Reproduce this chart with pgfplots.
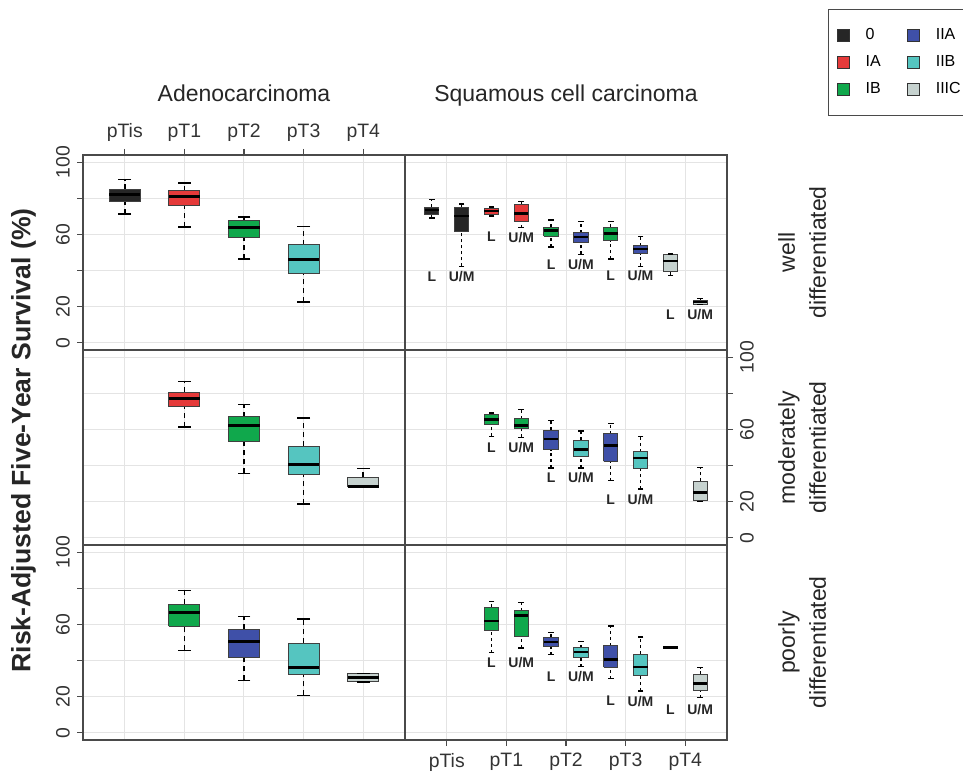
\documentclass[border=0pt]{standalone}
\usepackage{pgfplots}
\pgfplotsset{compat=1.18}
\usepackage{fontspec}
\setmainfont{Liberation Sans}
\definecolor{c0}{HTML}{262626}
\definecolor{cIA}{HTML}{E53A3A}
\definecolor{cIB}{HTML}{10A84C}
\definecolor{cIIA}{HTML}{3F50A8}
\definecolor{cIIB}{HTML}{55C5C0}
\definecolor{cIIIC}{HTML}{C6D2CF}
\definecolor{axc}{HTML}{4A4A4A}
\definecolor{gridc}{HTML}{E4E4E4}

\tikzset{
  strip/.style={rotate=90, align=center, font=\fontsize{11.5}{15.5}\selectfont, text=black!85},
  whL/.style={black, line width=0.8pt, dash pattern=on 2.5pt off 2pt},
  whR/.style={black, line width=0.6pt, dash pattern=on 1.5pt off 1.5pt},
  bxs/.style={draw=black!75, line width=0.5pt},
  mdL/.style={black, line width=1.5pt},
  mdR/.style={black, line width=1.2pt},
  capL/.style={only marks, mark=-, mark size=3.2pt, black, mark options={solid, line width=0.8pt}},
  capR/.style={only marks, mark=-, mark size=1.4pt, black, mark options={solid, line width=0.7pt}},
}
% colour, left edge, centre, right edge, lower whisker, lower quartile, median, upper quartile, upper whisker
\newcommand\bxL[9]{%
  \addplot[whL] coordinates {(#3,#5) (#3,#6)};
  \addplot[whL] coordinates {(#3,#8) (#3,#9)};
  \addplot[bxs, fill=#1] coordinates {(#2,#6) (#4,#6) (#4,#8) (#2,#8) (#2,#6)};
  \addplot[mdL] coordinates {(#2,#7) (#4,#7)};
  \addplot[capL] coordinates {(#3,#5) (#3,#9)};
}
\newcommand\bxR[9]{%
  \addplot[whR] coordinates {(#3,#5) (#3,#6)};
  \addplot[whR] coordinates {(#3,#8) (#3,#9)};
  \addplot[bxs, fill=#1] coordinates {(#2,#6) (#4,#6) (#4,#8) (#2,#8) (#2,#6)};
  \addplot[mdR] coordinates {(#2,#7) (#4,#7)};
  \addplot[capR] coordinates {(#3,#5) (#3,#9)};
}
\newcommand\lab[3]{\node[font=\bfseries\fontsize{7}{8}\selectfont, text=black!85] at (axis cs:#1,#2) {#3};}

\pgfplotsset{
  panel/.style={
    scale only axis, width=161pt, height=97.5pt,
    xmin=0.3, xmax=5.7, ymin=-4, ymax=104,
    xtick={1,2,3,4,5}, ytick={0,20,40,60,80,100},
    xticklabels={pTis,pT1,pT2,pT3,pT4}, yticklabels={0,20,,60,,100},
    grid=major, major grid style={draw=gridc, line width=0.5pt},
    axis line style={draw=axc, line width=0.8pt},
    tick align=outside, major tick length=3pt,
    tick style={draw=axc, line width=0.6pt},
    ticklabel style={font=\fontsize{9.7}{11}\selectfont, text=black!80},
    clip=false, anchor=north west,
  },
  noX/.style={xtick style={draw=none}, xticklabels={}},
  noY/.style={ytick style={draw=none}, yticklabels={}},
}

\begin{document}
\begin{tikzpicture}
\useasboundingbox (0,0) rectangle (481.5pt,388.5pt);
% ---------- top left: well, adenocarcinoma
\begin{axis}[panel, at={(41.5pt,311pt)}, xtick pos=right, ytick pos=left,
  yticklabel style={rotate=90, anchor=south},
  title={Adenocarcinoma},
  every axis title/.style={at={(axis description cs:0.5,1)}, anchor=base, yshift=26.65pt, font=\fontsize{11.5}{13}\selectfont, text=black!85}]
\bxL{c0}{0.74}{1}{1.26}{71.2}{78.0}{82.3}{84.9}{90.4}
\bxL{cIA}{1.74}{2}{2.26}{64.2}{76.0}{80.8}{84.3}{88.4}
\bxL{cIB}{2.74}{3}{3.26}{46.3}{58.5}{63.8}{67.9}{69.7}
\bxL{cIIB}{3.74}{4}{4.26}{22.5}{38.6}{46.1}{54.4}{64.4}
\end{axis}
% ---------- top right: well, squamous
\begin{axis}[panel, at={(202.5pt,311pt)}, noX, noY,
  title={Squamous cell carcinoma},
  every axis title/.style={at={(axis description cs:0.5,1)}, anchor=base, yshift=26.65pt, font=\fontsize{11.5}{13}\selectfont, text=black!85},
  legend columns=2, legend cell align=left,
  legend style={at={(axis description cs:1.314,1.749)}, anchor=north west, draw=axc, line width=0.6pt, fill=white,
    font=\fontsize{8}{9.6}\selectfont, row sep=2.6pt, inner xsep=4pt, inner ysep=7.3pt,
    /tikz/every odd column/.append style={column sep=6pt},
    /tikz/every even column/.append style={column sep=11pt}},
  legend image code/.code={\draw[#1, line width=0.5pt] (0pt,-3pt) rectangle (6pt,3pt);}]
\addlegendimage{fill=c0, draw=black!80}\addlegendentry{0}
\addlegendimage{fill=cIIA, draw=black!80}\addlegendentry{IIA}
\addlegendimage{fill=cIA, draw=black!80}\addlegendentry{IA}
\addlegendimage{fill=cIIB, draw=black!80}\addlegendentry{IIB}
\addlegendimage{fill=cIB, draw=black!80}\addlegendentry{IB}
\addlegendimage{fill=cIIIC, draw=black!80}\addlegendentry{IIIC}
\bxR{c0}{0.63}{0.75}{0.87}{69.0}{71.0}{73.4}{75.1}{79.5}
\bxR{c0}{1.13}{1.25}{1.37}{42.3}{61.8}{70.1}{75.1}{76.8}
\bxR{cIA}{1.63}{1.75}{1.87}{70.3}{71.0}{72.9}{74.5}{75.1}
\bxR{cIA}{2.13}{2.25}{2.37}{63.7}{67.3}{71.6}{76.4}{78.4}
\bxR{cIB}{2.63}{2.75}{2.87}{53.0}{59.0}{62.2}{64.0}{68.1}
\bxR{cIIA}{3.13}{3.25}{3.37}{48.9}{55.5}{58.5}{60.9}{67.2}
\bxR{cIB}{3.63}{3.75}{3.87}{46.5}{56.6}{60.5}{64.0}{67.2}
\bxR{cIIA}{4.13}{4.25}{4.37}{42.4}{49.3}{51.8}{53.7}{59.0}
\bxR{cIIIC}{4.63}{4.75}{4.87}{37.3}{39.7}{45.4}{48.7}{49.1}
\bxR{cIIIC}{5.13}{5.25}{5.37}{21.2}{21.2}{22.5}{23.4}{24.4}
\lab{0.75}{36.7}{L}\lab{1.25}{36.7}{U/M}
\lab{1.75}{58.5}{L}\lab{2.25}{58.5}{U/M}
\lab{2.75}{43.4}{L}\lab{3.25}{43.4}{U/M}
\lab{3.75}{37.3}{L}\lab{4.25}{37.3}{U/M}
\lab{4.75}{15.7}{L}\lab{5.25}{15.7}{U/M}
\node[strip] at (axis description cs:1.233,0.5) {well\\differentiated};
\end{axis}
% ---------- middle left: moderately, adenocarcinoma
\begin{axis}[panel, at={(41.5pt,213.5pt)}, noX, noY,
  ylabel={Risk-Adjusted Five-Year Survival (\%)},
  every axis y label/.style={at={(axis description cs:-0.185,0.536)}, anchor=center, rotate=90, font=\bfseries\fontsize{13.3}{16}\selectfont, text=black!85}]
\bxL{cIA}{1.74}{2}{2.26}{61.5}{72.6}{77.4}{80.6}{86.5}
\bxL{cIB}{2.74}{3}{3.26}{35.7}{53.6}{62.1}{67.1}{73.8}
\bxL{cIIB}{3.74}{4}{4.26}{18.7}{34.9}{40.5}{50.8}{66.2}
\bxL{cIIIC}{4.74}{5}{5.26}{27.9}{27.9}{28.2}{33.6}{38.3}
\end{axis}
% ---------- middle right: moderately, squamous
\begin{axis}[panel, at={(202.5pt,213.5pt)}, noX, ytick pos=right,
  yticklabel style={rotate=90, anchor=north}]
\bxR{cIB}{1.63}{1.75}{1.87}{56.2}{62.7}{65.4}{68.2}{69.1}
\bxR{cIB}{2.13}{2.25}{2.37}{55.6}{60.3}{62.1}{65.8}{71.0}
\bxR{cIIA}{2.63}{2.75}{2.87}{38.6}{48.8}{54.7}{59.5}{64.9}
\bxR{cIIB}{3.13}{3.25}{3.37}{38.6}{44.9}{49.0}{54.0}{59.1}
\bxR{cIIA}{3.63}{3.75}{3.87}{31.6}{42.3}{51.2}{57.5}{63.2}
\bxR{cIIB}{4.13}{4.25}{4.37}{27.0}{38.4}{44.2}{47.7}{56.2}
\bxR{cIIIC}{5.13}{5.25}{5.37}{20.1}{20.5}{25.1}{31.2}{38.8}
\lab{1.75}{49.7}{L}\lab{2.25}{49.7}{U/M}
\lab{2.75}{33.1}{L}\lab{3.25}{33.1}{U/M}
\lab{3.75}{20.9}{L}\lab{4.25}{20.9}{U/M}
\node[strip] at (axis description cs:1.233,0.5) {moderately\\differentiated};
\end{axis}
% ---------- bottom left: poorly, adenocarcinoma
\begin{axis}[panel, at={(41.5pt,116pt)}, noX, ytick pos=left,
  yticklabel style={rotate=90, anchor=south}]
\bxL{cIB}{1.74}{2}{2.26}{45.6}{58.9}{66.6}{71.2}{78.8}
\bxL{cIIA}{2.74}{3}{3.26}{29.0}{41.9}{50.4}{57.2}{64.4}
\bxL{cIIB}{3.74}{4}{4.26}{20.7}{32.3}{36.3}{49.6}{62.9}
\bxL{cIIIC}{4.74}{5}{5.26}{28.2}{28.2}{30.6}{32.8}{32.8}
\end{axis}
% ---------- bottom right: poorly, squamous
\begin{axis}[panel, at={(202.5pt,116pt)}, noY, xtick pos=left]
\bxR{cIB}{1.63}{1.75}{1.87}{44.3}{56.5}{61.8}{69.4}{72.7}
\bxR{cIB}{2.13}{2.25}{2.37}{47.0}{53.5}{64.9}{67.5}{72.3}
\bxR{cIIA}{2.63}{2.75}{2.87}{43.2}{47.6}{50.4}{52.8}{55.7}
\bxR{cIIB}{3.13}{3.25}{3.37}{36.7}{41.5}{44.6}{47.2}{50.7}
\bxR{cIIA}{3.63}{3.75}{3.87}{29.9}{36.3}{40.6}{48.3}{59.2}
\bxR{cIIB}{4.13}{4.25}{4.37}{23.1}{31.7}{36.3}{43.5}{53.0}
\bxR{c0}{4.63}{4.75}{4.87}{47.2}{47.2}{47.2}{47.2}{47.2}
\bxR{cIIIC}{5.13}{5.25}{5.37}{19.4}{23.6}{27.3}{32.3}{36.0}
\lab{1.75}{38.7}{L}\lab{2.25}{38.7}{U/M}
\lab{2.75}{31.0}{L}\lab{3.25}{31.0}{U/M}
\lab{3.75}{17.5}{L}\lab{4.25}{17.5}{U/M}
\lab{4.75}{12.9}{L}\lab{5.25}{12.9}{U/M}
\node[strip] at (axis description cs:1.233,0.5) {poorly\\differentiated};
\end{axis}
\end{tikzpicture}
\end{document}
